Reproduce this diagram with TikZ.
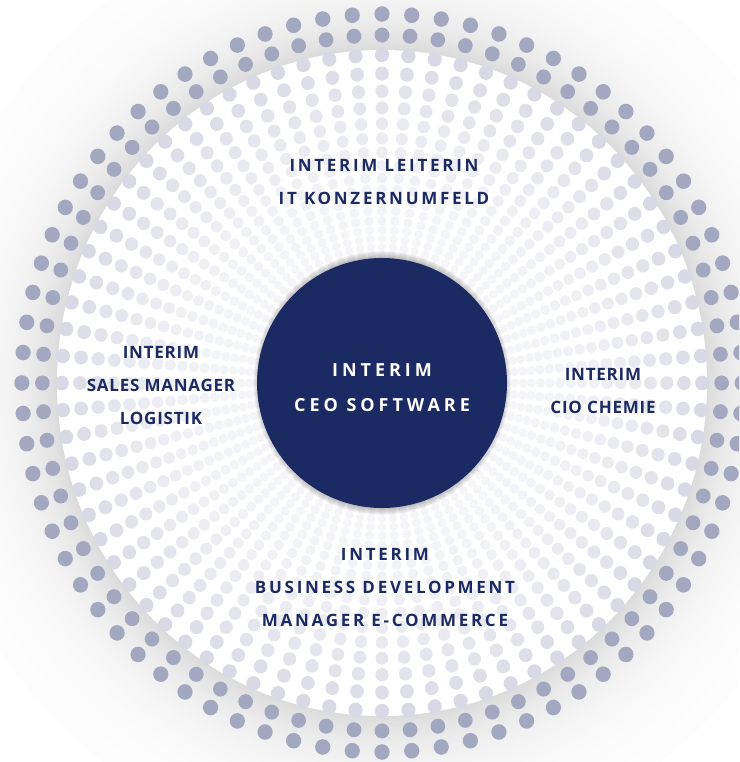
\documentclass[tikz,border=0pt]{standalone}
\usepackage{fontspec}
\setmainfont{Open Sans}
\newfontfamily\tagfont[LetterSpace=16]{Open Sans}
\newfontfamily\sidefont[LetterSpace=4.5]{Open Sans}
\newfontfamily\hubfont[LetterSpace=22]{Open Sans}
\definecolor{navy}{HTML}{1C2A64}
\definecolor{dotblue}{HTML}{A4A7C0}
\tikzset{
  tag/.style={text=navy, align=center, font=\tagfont\bfseries\fontsize{17}{33}\selectfont},
  sidetag/.style={tag, font=\sidefont\bfseries\fontsize{17}{33}\selectfont},
  hubtext/.style={text=white, align=center, font=\hubfont\bfseries\fontsize{18}{35}\selectfont},
  hub/.style={circle, fill=navy, minimum size=250, inner sep=0},
}

\begin{document}
\begin{tikzpicture}[x=1pt,y=-1pt]
  \useasboundingbox (0,0) rectangle (739,762);
  \clip (0,0) rectangle (739,762);
  \fill[white] (0,0) rectangle (739,762);
  \begin{scope}[shift={(382,383)},xscale=0.976]
    % soft shadow round the white disc
    \foreach \i in {70,...,0}{
      \pgfmathsetmacro\sh{14*exp(-2*\i/45)}
      \fill[black!\sh] (0,0) circle (334+2*\i);
    }
    \fill[white] (0,0) circle (333);
    % rings of dots
    \foreach \k in {0,...,19}{
      \pgfmathsetmacro\rr{369*0.943^\k}
      \pgfmathsetmacro\dr{7.8*(\rr/369)^0.6}
      \pgfmathtruncatemacro\tint{\k<2 ? 100 : 10+33*0.82^(\k-2)}
      \foreach \a in {0,...,75}
        \fill[dotblue!\tint] ({\a*4.736842}:\rr) circle (\dr);
    }
    \foreach \i in {1,...,7}
      \fill[black,opacity=0.035] (0,0) circle (125+\i);
  \end{scope}
  \node[hub] (ceo) at (382,383) {};
  \node[hubtext] (ceolabel) at (382,388) {INTERIM\\CEO SOFTWARE};
  \node[tag] (leiterin) at (384,182) {INTERIM LEITERIN\\IT KONZERNUMFELD};
  \node[sidetag] (sales) at (161,386) {INTERIM\\SALES MANAGER\\LOGISTIK};
  \node[sidetag] (cio) at (603,391) {INTERIM\\CIO CHEMIE};
  \node[tag] (business) at (385,588) {INTERIM\\BUSINESS DEVELOPMENT\\MANAGER E-COMMERCE};
\end{tikzpicture}
\end{document}
